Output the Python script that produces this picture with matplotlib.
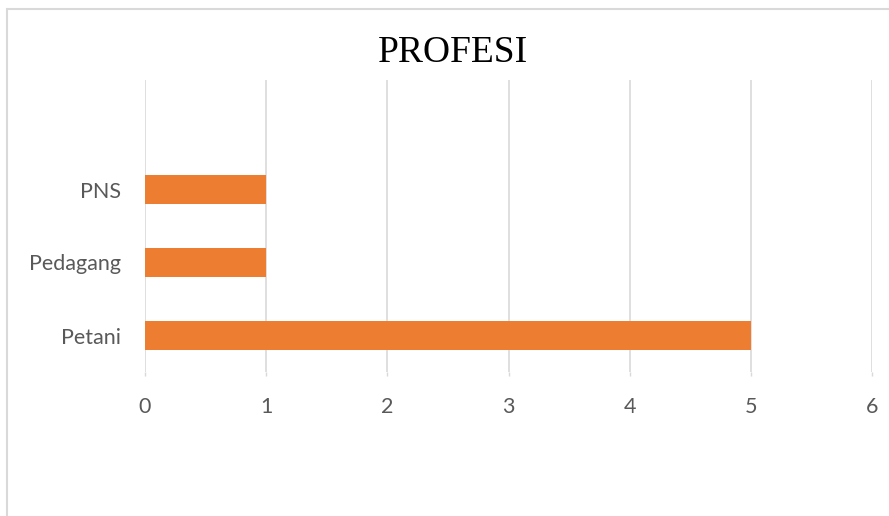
import matplotlib.pyplot as plt
from matplotlib.patches import Rectangle

categories = ['Petani', 'Pedagang', 'PNS']
values = [5, 1, 1]
x_ticks = [0, 1, 2, 3, 4, 5, 6]

W, H = 889, 516
fig = plt.figure(figsize=(W / 100, H / 100), dpi=100)
fig.patch.set_facecolor('white')

# chart frame
fig.patches.append(Rectangle((7 / W, -0.1), 1.1, 1 - 9 / H + 0.1, transform=fig.transFigure,
                             fill=False, edgecolor='#d9d9d9', linewidth=1.5))

ax = fig.add_axes([145 / W, 1 - 372 / H, (872 - 145) / W, (372 - 80) / H])
ax.barh(range(len(categories)), values, height=0.39, color='#ED7D31', zorder=3)

ax.set_xlim(0, 6)
ax.set_ylim(-0.5, 3.5)
ax.set_xticks(x_ticks)
ax.set_xticklabels([str(t) for t in x_ticks])
ax.set_yticks(range(len(categories)))
ax.set_yticklabels(categories)

ax.grid(axis='x', color='#d9d9d9', linewidth=1.2, zorder=0)
for s in ax.spines.values():
    s.set_visible(False)
ax.tick_params(axis='y', length=0, pad=17, labelsize=15.5, labelcolor='#595959')
ax.tick_params(axis='x', length=3, width=1, color='#d9d9d9', pad=15, labelsize=15.5,
               labelcolor='#595959')
for lbl in ax.get_xticklabels() + ax.get_yticklabels():
    lbl.set_fontfamily('Lato')

fig.text(453 / W, 1 - 53 / H, 'PROFESI', ha='center', va='center',
         fontsize=27, family='Liberation Serif', color='black')

fig.savefig('out.png', dpi=100)
